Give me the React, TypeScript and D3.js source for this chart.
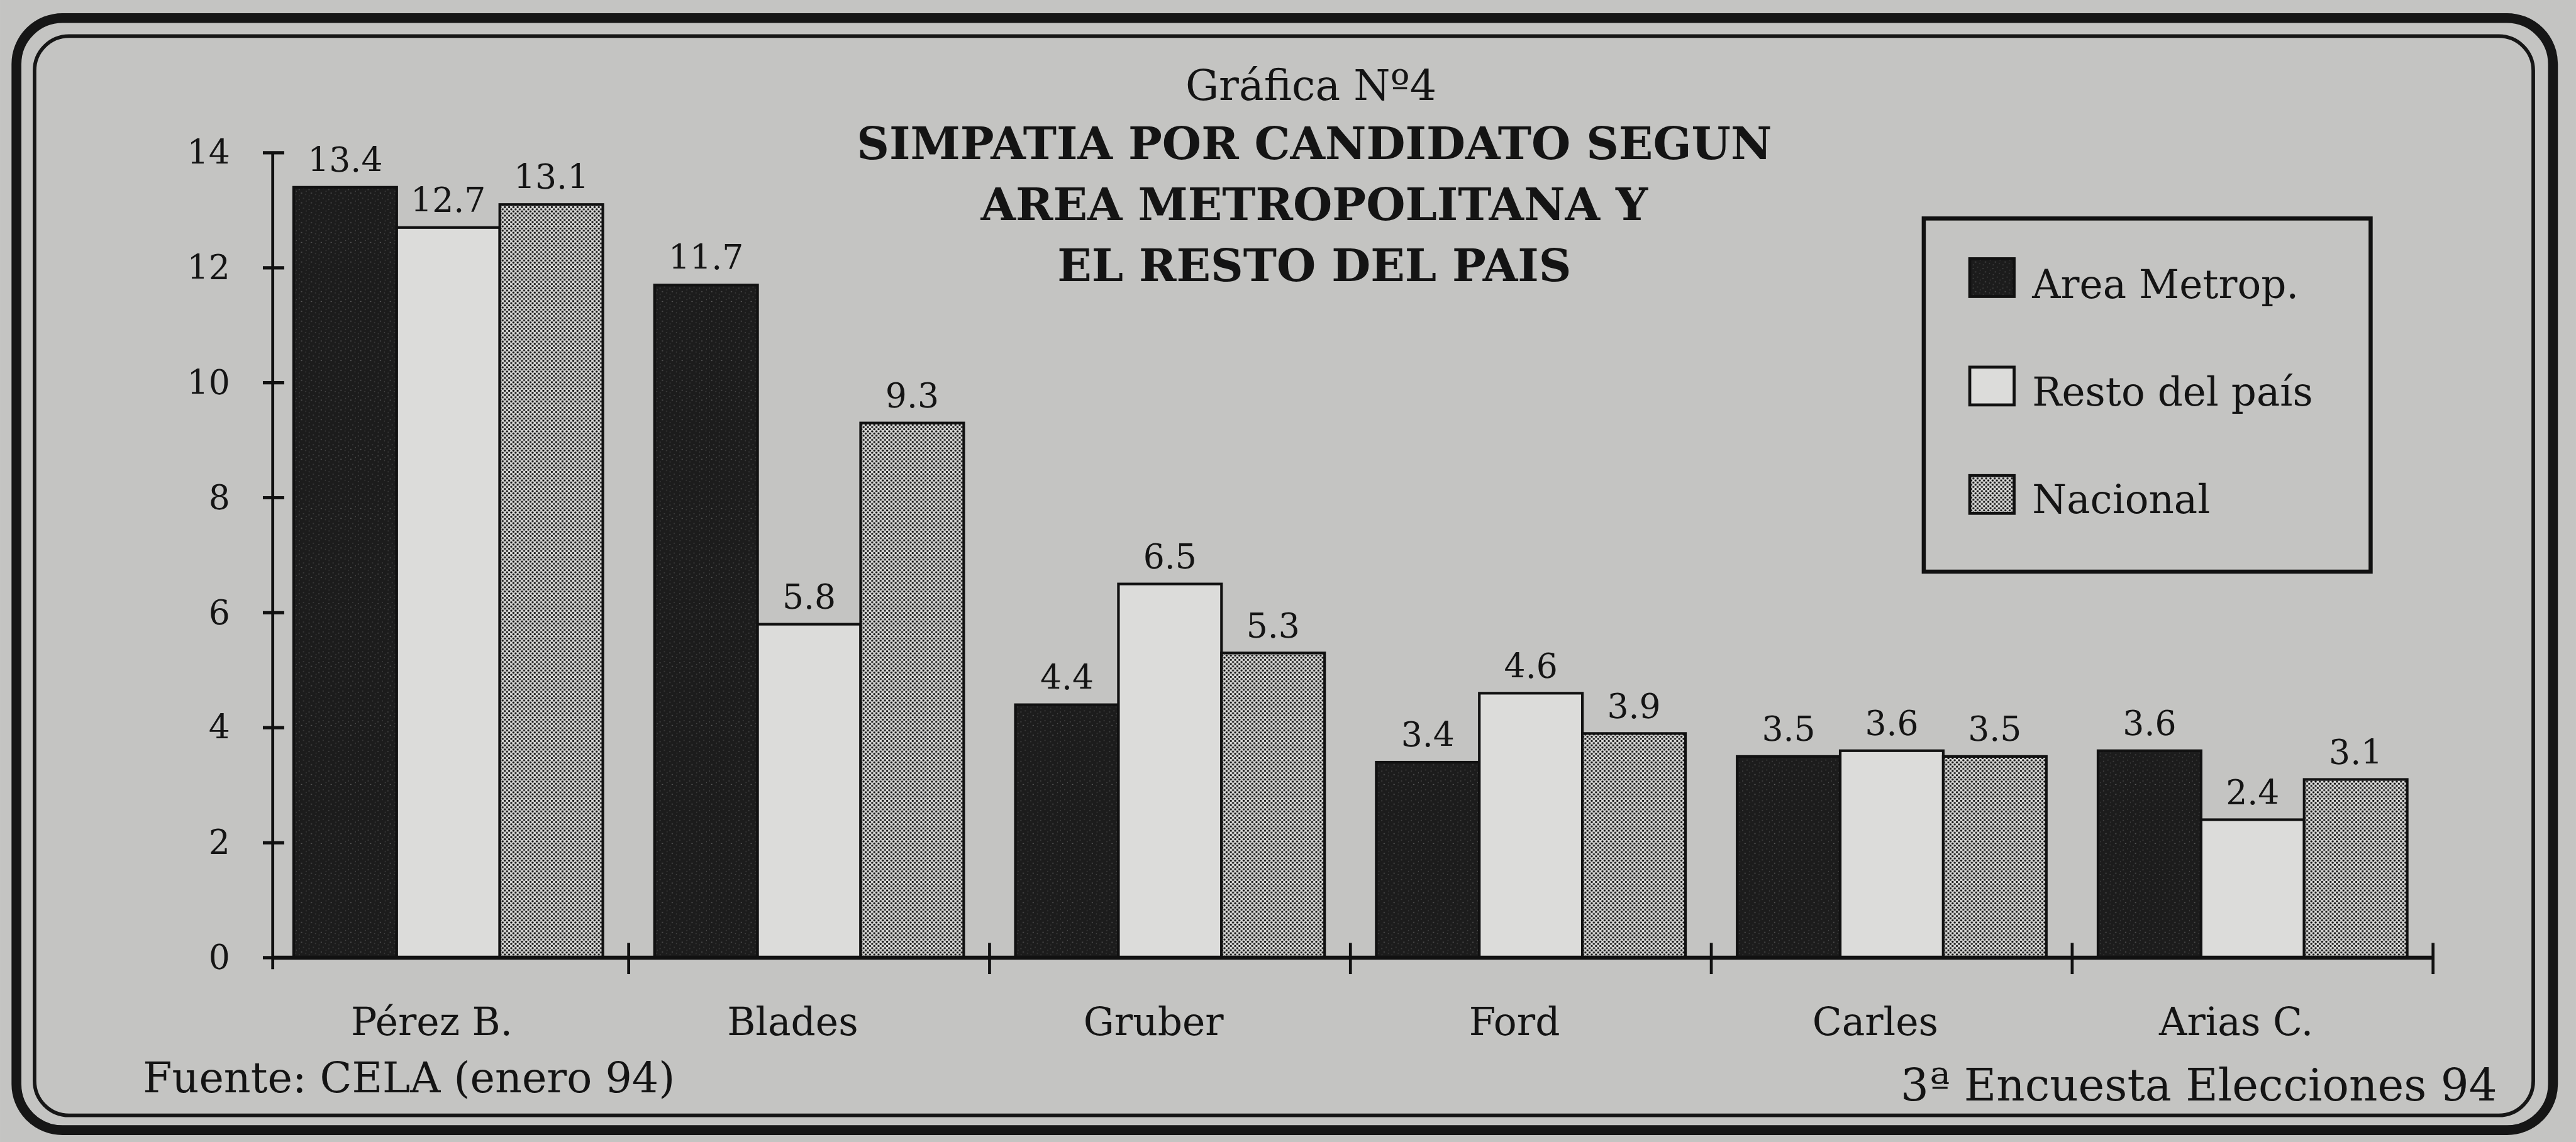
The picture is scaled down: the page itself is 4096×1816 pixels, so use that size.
import React from "react";
import * as d3 from "d3";

const categories = ["Pérez B.", "Blades", "Gruber", "Ford", "Carles", "Arias C."];
const seriesNames = ["Area Metrop.", "Resto del país", "Nacional"];
const areaMetrop = [13.4, 11.7, 4.4, 3.4, 3.5, 3.6];
const restoPais = [12.7, 5.8, 6.5, 4.6, 3.6, 2.4];
const nacional = [13.1, 9.3, 5.3, 3.9, 3.5, 3.1];
const yTicks = [0, 2, 4, 6, 8, 10, 12, 14];
const titleLines = ["SIMPATIA POR CANDIDATO SEGUN", "AREA METROPOLITANA Y", "EL RESTO DEL PAIS"];
const subtitle = "Gráfica Nº4";
const sourceLeft = "Fuente: CELA (enero 94)";
const sourceRight = "3ª Encuesta Elecciones 94";

const seriesValues = [areaMetrop, restoPais, nacional];
const seriesFill = ["url(#darkPat)", "#dcdcda", "url(#dotPat)"];

const W = 1568;
const H = 695.2;
const INK = "#141414";
const FONT = "'DejaVu Serif', serif";

export default function App() {
  const x0 = d3.scaleBand<string>().domain(categories).range([163, 1481]).paddingInner(0).paddingOuter(0);
  const bw = x0.bandwidth();
  const inset = bw * 0.0716;
  const x1 = d3.scaleBand<string>().domain(seriesNames).range([inset, bw - inset]).padding(0);
  const y = d3.scaleLinear().domain([0, 14]).range([583, 93]);
  const bottom = y(0);

  const boundaries = [...categories.slice(1).map((c) => x0(c) as number), x0.range()[1]];

  return (
    <svg
      width={4096}
      height={1816}
      viewBox={`0 0 ${W} ${H}`}
      style={{ position: "fixed", top: 0, left: 0, display: "block" }}
    >
      <defs>
        <pattern id="dotPat" patternUnits="userSpaceOnUse" width={2.6} height={2.6}>
          <rect width={2.6} height={2.6} fill="#e0e0de" />
          <circle cx={0} cy={0} r={0.68} fill="#111" />
          <circle cx={2.6} cy={0} r={0.68} fill="#111" />
          <circle cx={0} cy={2.6} r={0.68} fill="#111" />
          <circle cx={2.6} cy={2.6} r={0.68} fill="#111" />
          <circle cx={1.3} cy={1.3} r={0.68} fill="#111" />
        </pattern>
        <pattern id="darkPat" patternUnits="userSpaceOnUse" width={6} height={6}>
          <rect width={6} height={6} fill="#1c1c1c" />
          <rect x={0.8} y={1.2} width={0.6} height={0.5} fill="#555" />
          <rect x={3.5} y={0.4} width={0.5} height={0.6} fill="#4a4a4a" />
          <rect x={2.2} y={3.3} width={0.7} height={0.5} fill="#606060" />
          <rect x={4.8} y={4.1} width={0.5} height={0.5} fill="#4a4a4a" />
          <rect x={1.0} y={5.0} width={0.5} height={0.4} fill="#555" />
          <rect x={5.2} y={2.2} width={0.4} height={0.5} fill="#5a5a5a" />
        </pattern>
      </defs>

      <rect x={0} y={0} width={W} height={H} fill="#c4c4c2" />

      {/* frame */}
      <rect x={10} y={11} width={1544} height={677} rx={28} ry={28} fill="none" stroke="#161616" strokeWidth={6} />
      <rect x={21} y={22} width={1521} height={657} rx={21} ry={21} fill="none" stroke="#161616" strokeWidth={2.2} />

      {/* title */}
      <text x={798} y={61} textAnchor="middle" fontFamily={FONT} fontSize={25.5} fill={INK}>
        {subtitle}
      </text>
      {titleLines.map((t, i) => (
        <text
          key={t}
          x={800}
          y={97 + i * 37}
          textAnchor="middle"
          fontFamily={FONT}
          fontWeight="bold"
          fontSize={27.4}
          fill={INK}
        >
          {t}
        </text>
      ))}

      {/* bars */}
      {categories.map((c, ci) => (
        <g key={c} transform={`translate(${x0(c)},0)`}>
          {seriesNames.map((s, si) => {
            const v = seriesValues[si][ci];
            const bx = x1(s) as number;
            const by = y(v);
            return (
              <g key={s}>
                <rect
                  x={bx}
                  y={by}
                  width={x1.bandwidth()}
                  height={bottom - by}
                  fill={seriesFill[si]}
                  stroke="#111"
                  strokeWidth={1.6}
                />
                <text
                  x={bx + x1.bandwidth() / 2}
                  y={by - 9.5}
                  textAnchor="middle"
                  fontFamily={FONT}
                  fontSize={20.5}
                  fill={INK}
                >
                  {v.toFixed(1)}
                </text>
              </g>
            );
          })}
          <text
            x={bw / 2 - 10}
            y={630}
            textAnchor="middle"
            fontFamily={FONT}
            fontSize={23.5}
            fill={INK}
          >
            {c}
          </text>
        </g>
      ))}

      {/* axes */}
      <line x1={166} x2={166} y1={y(14)} y2={590} stroke="#111" strokeWidth={1.8} />
      {yTicks.map((t) => (
        <g key={t}>
          <line x1={160} x2={173} y1={y(t)} y2={y(t)} stroke="#111" strokeWidth={2} />
          <text x={140} y={y(t) + 7} textAnchor="end" fontFamily={FONT} fontSize={20.5} fill={INK}>
            {t}
          </text>
        </g>
      ))}
      <line x1={166} x2={x0.range()[1]} y1={bottom} y2={bottom} stroke="#111" strokeWidth={2.4} />
      {boundaries.map((b, i) => (
        <line key={i} x1={b} x2={b} y1={bottom - 9} y2={bottom + 10} stroke="#111" strokeWidth={1.8} />
      ))}

      {/* legend */}
      <rect x={1171} y={133} width={272} height={215} fill="none" stroke="#111" strokeWidth={2.5} />
      {seriesNames.map((s, i) => (
        <g key={s}>
          <rect
            x={1199}
            y={157.5 + i * 66}
            width={27}
            height={23}
            fill={seriesFill[i]}
            stroke="#111"
            strokeWidth={1.8}
          />
          <text x={1237} y={181.5 + i * 65.5} fontFamily={FONT} fontSize={24} fill={INK}>
            {s}
          </text>
        </g>
      ))}

      {/* sources */}
      <text x={87} y={665} fontFamily={FONT} fontSize={25.5} fill={INK}>
        {sourceLeft}
      </text>
      <text x={1520} y={670} textAnchor="end" fontFamily={FONT} fontSize={27} fill={INK}>
        {sourceRight}
      </text>
    </svg>
  );
}
